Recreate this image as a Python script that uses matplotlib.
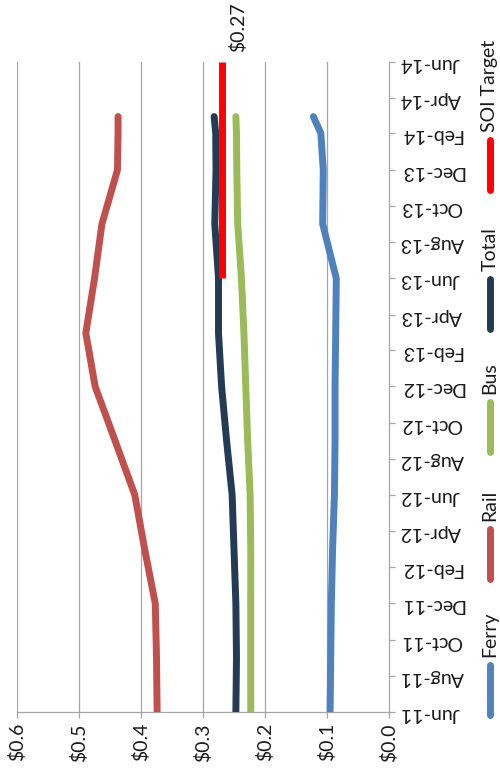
import matplotlib
matplotlib.use("Agg")
import matplotlib.pyplot as plt
from matplotlib.lines import Line2D
import pandas as pd

plt.rcParams['font.family'] = ['Lato', 'DejaVu Sans']

# Cost per passenger by mode, quarterly readings
periods = ["Jun-11", "Sep-11", "Dec-11", "Mar-12", "Jun-12", "Sep-12", "Dec-12",
           "Mar-13", "Jun-13", "Sep-13", "Dec-13", "Feb-14", "Mar-14"]
ferry = [0.095, 0.094, 0.093, 0.091, 0.088, 0.087, 0.087,
         0.086, 0.085, 0.107, 0.106, 0.110, 0.122]
rail = [0.374, 0.375, 0.377, 0.394, 0.410, 0.442, 0.474,
        0.489, 0.475, 0.463, 0.438, 0.437, 0.437]
bus = [0.223, 0.223, 0.223, 0.223, 0.224, 0.228, 0.231,
       0.234, 0.238, 0.244, 0.2455, 0.246, 0.247]
total = [0.247, 0.246, 0.247, 0.250, 0.253, 0.262, 0.270,
         0.275, 0.275, 0.281, 0.279, 0.2795, 0.282]

target_periods = ["Jun-13", "Jun-14"]
soi_target = [0.27, 0.27]

date_ticks = ["Jun-11", "Aug-11", "Oct-11", "Dec-11", "Feb-12", "Apr-12", "Jun-12",
              "Aug-12", "Oct-12", "Dec-12", "Feb-13", "Apr-13", "Jun-13", "Aug-13",
              "Oct-13", "Dec-13", "Feb-14", "Apr-14", "Jun-14"]
value_ticks = [0.0, 0.1, 0.2, 0.3, 0.4, 0.5, 0.6]

series_names = ["Ferry", "Rail", "Bus", "Total", "SOI Target"]
colors = {"Ferry": "#4F81BD", "Rail": "#C0504D", "Bus": "#9BBB59",
          "Total": "#243B55", "SOI Target": "#FF0000"}


def to_dates(labels):
    return pd.to_datetime(labels, format="%b-%y")


W, H = 500, 780
fig = plt.figure(figsize=(W / 100, H / 100), dpi=100)
ax = fig.add_axes([17 / W, 1 - 712 / H, (389 - 17) / W, (712 - 62) / H])

grid_c = "#A6A6A6"
text_c = "#1a1a1a"
fs = 14
lw = 5.0
series = {"Ferry": ferry, "Rail": rail, "Bus": bus, "Total": total}
yd = to_dates(periods)
for name in ["Ferry", "Rail", "Bus", "Total"]:
    ax.plot(series[name], yd, color=colors[name], lw=lw,
            solid_capstyle="round", solid_joinstyle="round", zorder=3)
td = to_dates(target_periods)
ax.plot(soi_target, td, color=colors["SOI Target"], lw=lw,
        solid_capstyle="butt", zorder=4)

tick_dates = to_dates(date_ticks)
ax.set_ylim(tick_dates[0], tick_dates[-1])
ax.set_xlim(max(value_ticks), min(value_ticks))

ax.set_xticks(value_ticks)
ax.set_xticklabels([f"${v:.1f}" for v in value_ticks], rotation=90)
ax.set_yticks(tick_dates)
ax.set_yticklabels(date_ticks)
ax.yaxis.tick_right()
for lab in ax.get_yticklabels():
    lab.set_rotation(180)

for v in value_ticks[1:]:
    ax.axvline(v, color=grid_c, lw=0.9, zorder=1)

for side in ["top", "left"]:
    ax.spines[side].set_visible(False)
for side in ["bottom", "right"]:
    ax.spines[side].set_color(grid_c)
    ax.spines[side].set_linewidth(0.9)
ax.tick_params(axis="both", colors=grid_c, width=0.9, length=4,
               labelsize=fs, labelcolor=text_c, pad=4)

# value label on the target line
ax.annotate(f"${soi_target[-1]:.2f}", xy=(soi_target[-1], td[-1]),
            xytext=(12, 7), textcoords="offset points", rotation=90,
            ha="center", va="bottom", fontsize=fs, color=text_c,
            annotation_clip=False)

# vertical legend at the right edge
leg_x = 490 / W
leg_starts = {"Ferry": 718, "Rail": 582, "Bus": 455, "Total": 332, "SOI Target": 193}
line_len = 56
for name in series_names:
    y0 = leg_starts[name]
    y1 = y0 - line_len
    fig.add_artist(Line2D([leg_x, leg_x], [1 - (y0 - 3) / H, 1 - (y1 + 3) / H],
                          transform=fig.transFigure, color=colors[name], lw=lw,
                          solid_capstyle="round"))
    fig.text(leg_x, 1 - (y1 - 5) / H, name, rotation=90, ha="center",
             va="bottom", fontsize=fs, color=text_c)

fig.savefig("out.png", dpi=100)
